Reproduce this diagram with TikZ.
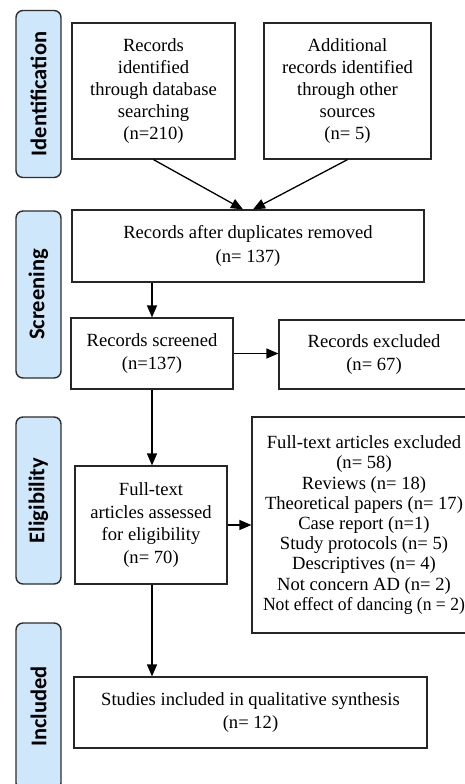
\documentclass[tikz,border=0pt]{standalone}
\usepackage{fontspec}
\setmainfont{Liberation Serif}
\newfontfamily\tabfont{Carlito}
\usetikzlibrary{arrows.meta,calc}
\definecolor{tabblue}{HTML}{CFE7FA}
\definecolor{tabedge}{HTML}{2E2E2E}
\definecolor{boxedge}{HTML}{262626}
\tikzset{
  flowbox/.style={draw=boxedge, line width=1.2pt, fill=white, align=center, inner sep=2pt,
    font=\fontsize{18.6}{22}\selectfont},
  tabbox/.style={draw=tabedge, line width=1.4pt, fill=tabblue, rounded corners=7pt,
    minimum width=45pt, minimum height=167pt, inner sep=0pt},
  tablabel/.style={rotate=90, font=\tabfont\bfseries\fontsize{22.5}{26}\selectfont},
  conn/.style={line width=1.3pt, draw=black, -{Triangle[length=12pt,width=10pt]}},
}
\begin{document}
\begin{tikzpicture}[x=1pt,y=-1pt]
\useasboundingbox (0,0) rectangle (465,784);
\fill[white] (0,0) rectangle (465,784);
\clip (0,0) rectangle (465,784);
% phase tabs
\node[tabbox] (tid) at (38.5,94) {};
\node[tablabel] (lid) at (tid.center) {Identification};
\node[tabbox] (tsc) at (38.5,294.5) {};
\node[tablabel] (lsc) at (tsc.center) {Screening};
\node[tabbox] (tel) at (38.5,500.5) {};
\node[tablabel] (lel) at (tel.center) {Eligibility};
\node[tabbox] (tin) at (38.5,706.5) {};
\node[tablabel] (lin) at (tin.center) {Included};
% boxes
\node[flowbox, minimum width=163pt, minimum height=136pt] (db) at (153.5,91)
  {Records\\identified\\through database\\searching\\(n=210)};
\node[flowbox, minimum width=167pt, minimum height=136pt] (os) at (347.5,91)
  {Additional\\records identified\\through other\\sources\\(n= 5)};
\node[flowbox, minimum width=352pt, minimum height=72pt, font=\fontsize{18.6}{23.5}\selectfont] (dup) at (248,246)
  {Records after duplicates removed\\(n= 137)};
\node[flowbox, minimum width=162pt, minimum height=71pt, font=\fontsize{18.6}{23}\selectfont] (scr) at (152,353.5)
  {Records screened\\(n=137)};
\node[flowbox, minimum width=190pt, minimum height=69pt, font=\fontsize{18.6}{23}\selectfont] (ex1) at (374,354.5)
  {Records excluded\\(n= 67)};
\node[flowbox, minimum width=152pt, minimum height=118pt, font=\fontsize{18.6}{22.5}\selectfont] (ft) at (151,525)
  {Full-text\\articles assessed\\for eligibility\\(n= 70)};
\node[flowbox, minimum width=224pt, minimum height=216pt, font=\fontsize{18.6}{20.2}\selectfont] (ex2) at (364,525)
  {Full-text articles excluded\\(n= 58)\\Reviews (n= 18)\\Theoretical papers (n= 17)\\Case report (n=1)\\Study protocols (n= 5)\\Descriptives (n= 4)\\Not concern AD (n= 2)\\\scalebox{0.945}[1]{Not effect of dancing (n = 2)}};
\node[flowbox, minimum width=353pt, minimum height=71pt, font=\fontsize{18.6}{23}\selectfont] (inc) at (250.5,712.5)
  {Studies included in qualitative synthesis\\(n= 12)};
% connectors
\draw[conn] (db.south) -- ($(dup.north)+(-5,0)$);
\draw[conn] (os.south) -- ($(dup.north)+(5,0)$);
\draw[conn] (dup.south -| scr.north) -- (scr.north);
\draw[conn] (scr.east) -- (scr.east -| ex1.west);
\draw[conn] (scr.south) -- (scr.south |- ft.north);
\draw[conn] (ft.east) -- (ft.east -| ex2.west);
\draw[conn] (ft.south -| scr.south) -- (scr.south |- inc.north);
\end{tikzpicture}
\end{document}
